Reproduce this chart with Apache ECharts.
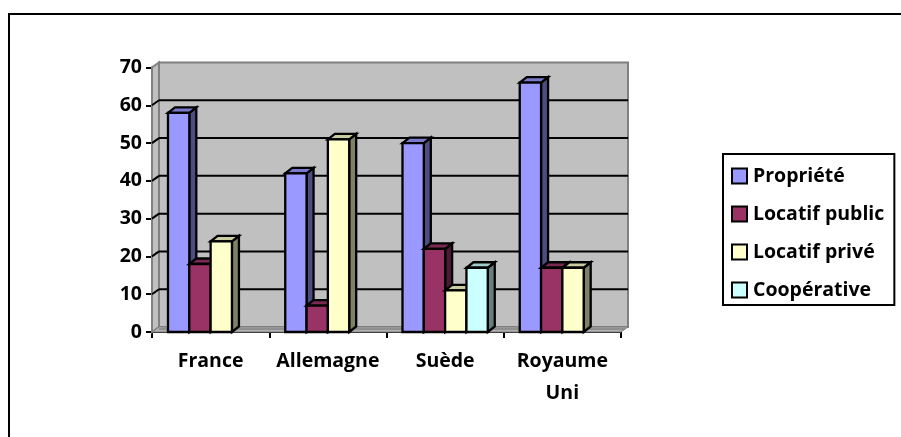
<!DOCTYPE html>
<html><head><meta charset="utf-8">
<style>html,body{margin:0;padding:0;background:#fff}#c{width:901px;height:437px}</style>
<script src="https://cdn.jsdelivr.net/npm/echarts@6/dist/echarts.min.js"></script>
</head><body><div id="c"></div>
<script>
const categories = ['France', 'Allemagne', 'Suède', 'Royaume Uni'];
const proprieteValues = [58, 42, 50, 66];
const locatifPublicValues = [18, 7, 22, 17];
const locatifPriveValues = [24, 51, 11, 17];
const cooperativeValues = [null, null, 17, null];
const seriesNames = ['Propriété', 'Locatif public', 'Locatif privé', 'Coopérative'];
const yTicks = [0, 10, 20, 30, 40, 50, 60, 70];

const front = ['#9999FF', '#993366', '#FFFFCC', '#CCFFFF'];
const top_ = ['#7A7ACC', '#7A2952', '#CCCCA3', '#A3CCCC'];
const side = ['#4D4D80', '#4D1A33', '#808066', '#668080'];
const DX = 7, DY = -5.5, WALL_DY = -5;
const font = '"Open Sans", sans-serif';

const chart = echarts.init(document.getElementById('c'), null, {renderer: 'canvas'});

function poly(points, fill, stroke, lw) {
  return {type: 'polygon', shape: {points}, style: {fill, stroke, lineWidth: lw, lineJoin: 'miter'}};
}
function seg(x1, y1, x2, y2, stroke, lw) {
  return {type: 'line', shape: {x1, y1, x2, y2}, style: {stroke, lineWidth: lw}};
}

function wallRender(params, api) {
  const v = api.value(0);
  const p0 = api.coord([0, 0]);
  const ctop = api.coord([0, 70]);
  const band = api.size([1, 0])[0];
  const L = p0[0] - band / 2, R = L + band * categories.length, B = p0[1], T = ctop[1];
  const yF = api.coord([0, v])[1];
  const y = yF + WALL_DY;
  const kids = [];
  if (v === 0) {
    kids.push(poly([[L, B], [L + DX, B + WALL_DY], [L + DX, T + WALL_DY], [L, T]], '#C0C0C0', '#808080', 2));
    kids.push(poly([[L + DX, B + WALL_DY], [R + DX, B + WALL_DY], [R + DX, T + WALL_DY], [L + DX, T + WALL_DY]], '#C0C0C0', '#808080', 2));
    kids.push(poly([[L, B], [R, B], [R + DX, B + WALL_DY], [L + DX, B + WALL_DY]], '#B0B0B0', '#808080', 1));
    kids.push(seg(L + DX, B - 3, R + DX - 3, B - 3, '#707070', 1));
  } else if (v < 70) {
    kids.push(seg(L, yF, L + DX, y, '#000', 2));
    kids.push(seg(L + DX, y, R + DX, y, '#000', 2));
  }
  return {type: 'group', children: kids};
}

function barRender(si) {
  return function (params, api) {
    const v = api.value(1);
    if (v == null || isNaN(v)) return null;
    const c = api.coord([api.value(0), v]);
    const b = api.coord([api.value(0), 0]);
    const band = api.size([1, 0])[0];
    const w = band / 5.5;
    const x0 = c[0] - 2 * w + si * w, x1 = x0 + w, yT = c[1], yB = b[1];
    return {type: 'group', children: [
      poly([[x1, yB], [x1 + DX, yB + DY], [x1 + DX, yT + DY], [x1, yT]], side[si], '#000', 2.3),
      poly([[x0, yT], [x1, yT], [x1 + DX, yT + DY], [x0 + DX, yT + DY]], top_[si], '#000', 2.3),
      poly([[x0, yB], [x1, yB], [x1, yT], [x0, yT]], front[si], '#000', 2.3)
    ]};
  };
}

const allValues = [proprieteValues, locatifPublicValues, locatifPriveValues, cooperativeValues];

chart.setOption({
  animation: false,
  backgroundColor: '#fff',
  graphic: [
    {type: 'line', shape: {x1: 9, y1: 14, x2: 901, y2: 14}, style: {stroke: '#000', lineWidth: 2}},
    {type: 'line', shape: {x1: 9, y1: 13, x2: 9, y2: 437}, style: {stroke: '#000', lineWidth: 2}}
  ],
  grid: {left: 152, top: 67.5, width: 469, height: 264.5},
  legend: {
    left: 723, top: 154, orient: 'vertical', padding: [11, 10, 4, 8], itemWidth: 15, itemHeight: 15, itemGap: 16,
    borderColor: '#000', borderWidth: 2, backgroundColor: '#fff',
    icon: 'rect', data: seriesNames,
    itemStyle: {borderColor: '#000', borderWidth: 2},
    textStyle: {color: '#000', fontFamily: font, fontWeight: 'bold', fontSize: 19.5, height: 22, lineHeight: 22, padding: [0, 0, 0, 1]}
  },
  xAxis: {
    type: 'category', data: categories, boundaryGap: true,
    axisLine: {lineStyle: {color: '#000', width: 2}},
    axisTick: {show: true, alignWithLabel: false, length: 6, lineStyle: {color: '#000', width: 2}},
    axisLabel: {color: '#000', fontFamily: font, fontWeight: 'bold', fontSize: 19.5, lineHeight: 32, margin: 13, interval: 0,
      formatter: s => s.replace(' ', '\n')}
  },
  yAxis: {
    type: 'value', min: 0, max: 70, interval: 10,
    axisLine: {show: true, lineStyle: {color: '#000', width: 2}},
    axisTick: {show: true, length: 6, lineStyle: {color: '#000', width: 2}},
    axisLabel: {color: '#000', fontFamily: font, fontWeight: 'bold', fontSize: 19.5, margin: 10, padding: [2, 0, 0, 0]},
    splitLine: {show: false}
  },
  series: [
    {type: 'custom', name: '_wall', silent: true, coordinateSystem: 'cartesian2d', data: yTicks.map(t => [t]),
     encode: {y: 0}, renderItem: wallRender, z: 1, clip: false},
    ...seriesNames.map((n, si) => ({
      type: 'custom', name: n, coordinateSystem: 'cartesian2d', z: 2 + si, clip: false,
      itemStyle: {color: front[si]},
      data: categories.map((c, i) => [i, allValues[si][i]]),
      encode: {x: 0, y: 1},
      renderItem: barRender(si)
    }))
  ]
});
</script></body></html>
